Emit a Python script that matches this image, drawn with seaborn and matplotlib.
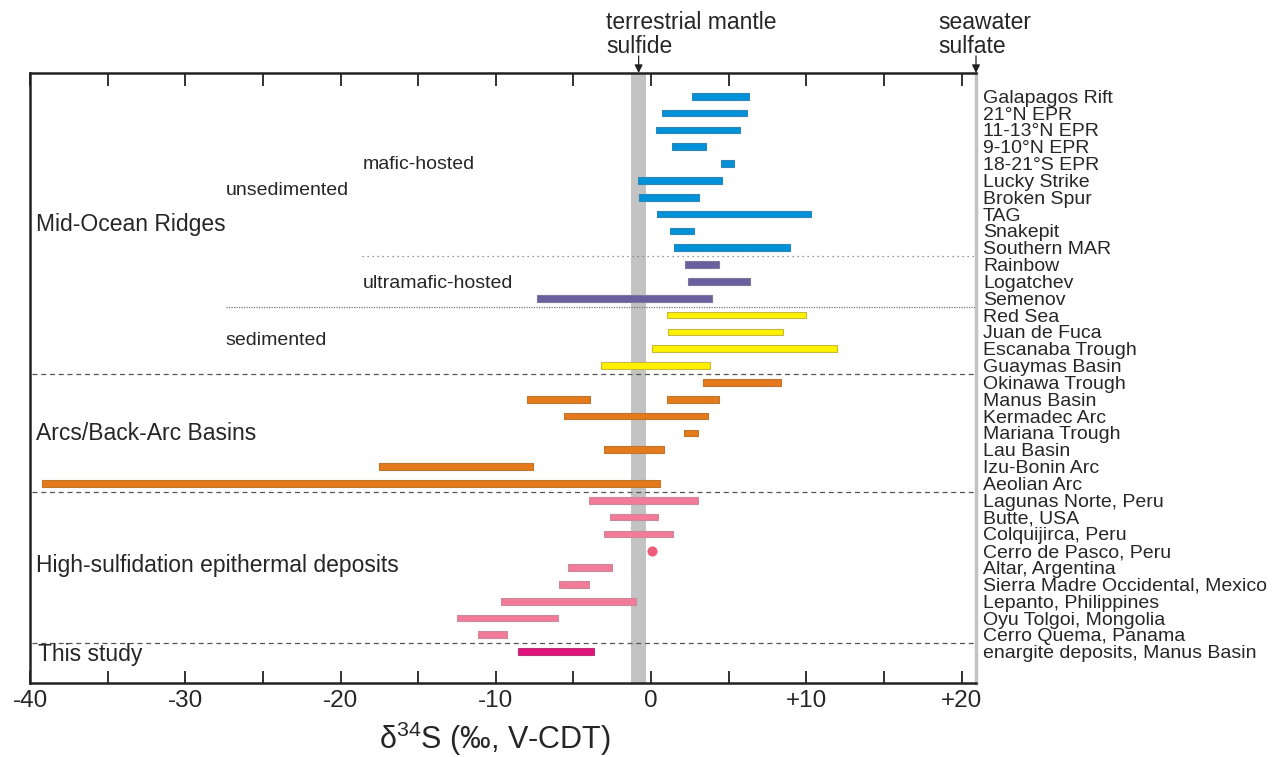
import numpy as np
import pandas as pd
import matplotlib
matplotlib.use("Agg")
import matplotlib.pyplot as plt
import seaborn as sns
from matplotlib.transforms import blended_transform_factory

# ---------------- data ----------------
sites = ["Galapagos Rift", "21°N EPR", "11-13°N EPR", "9-10°N EPR", "18-21°S EPR",
         "Lucky Strike", "Broken Spur", "TAG", "Snakepit", "Southern MAR",
         "Rainbow", "Logatchev", "Semenov",
         "Red Sea", "Juan de Fuca", "Escanaba Trough", "Guaymas Basin",
         "Okinawa Trough", "Manus Basin", "Kermadec Arc", "Mariana Trough",
         "Lau Basin", "Izu-Bonin Arc", "Aeolian Arc",
         "Lagunas Norte, Peru", "Butte, USA", "Colquijirca, Peru",
         "Cerro de Pasco, Peru", "Altar, Argentina",
         "Sierra Madre Occidental, Mexico", "Lepanto, Philippines",
         "Oyu Tolgoi, Mongolia", "Cerro Quema, Panama",
         "enargite deposits, Manus Basin"]

# range segments (site, min, max, group)
seg_site = ["Galapagos Rift", "21°N EPR", "11-13°N EPR", "9-10°N EPR", "18-21°S EPR",
            "Lucky Strike", "Broken Spur", "TAG", "Snakepit", "Southern MAR",
            "Rainbow", "Logatchev", "Semenov",
            "Red Sea", "Juan de Fuca", "Escanaba Trough", "Guaymas Basin",
            "Okinawa Trough", "Manus Basin", "Manus Basin", "Kermadec Arc",
            "Mariana Trough", "Lau Basin", "Izu-Bonin Arc", "Aeolian Arc",
            "Lagunas Norte, Peru", "Butte, USA", "Colquijirca, Peru",
            "Altar, Argentina", "Sierra Madre Occidental, Mexico",
            "Lepanto, Philippines", "Oyu Tolgoi, Mongolia",
            "Cerro Quema, Panama", "enargite deposits, Manus Basin"]
seg_lo = [2.65, 0.7, 0.3, 1.35, 4.5, -0.85, -0.75, 0.4, 1.2, 1.45,
          2.2, 2.35, -7.35,
          1.05, 1.1, 0.05, -3.25,
          3.35, -8.0, 1.0, -5.6, 2.1, -3.0, -17.5, -39.2,
          -4.0, -2.65, -3.0, -5.35, -5.95, -9.65, -12.5, -11.15, -8.6]
seg_hi = [6.3, 6.2, 5.75, 3.55, 5.35, 4.6, 3.1, 10.3, 2.75, 8.95,
          4.4, 6.35, 3.95,
          10.0, 8.5, 11.95, 3.8,
          8.4, -3.9, 4.35, 3.65, 3.05, 0.85, -7.6, 0.55,
          3.05, 0.45, 1.4, -2.5, -4.0, -0.95, -6.0, -9.3, -3.7]
seg_group = (["mafic"] * 10 + ["ultramafic"] * 3 + ["sedimented"] * 4 +
             ["arc"] * 8 + ["hs"] * 8 + ["this"])

point_site = ["Cerro de Pasco, Peru"]
point_val = [0.05]

mantle_band = (-1.3, -0.35)
mantle_value = -0.8
seawater_value = 20.93

group_fill = {"mafic": "#0092d8", "ultramafic": "#6a5f9f", "sedimented": "#fff200",
              "arc": "#e57a1c", "hs": "#f27b99", "this": "#df157b"}
group_edge = {"mafic": "#2f86b6", "ultramafic": "#7f7799", "sedimented": "#c8b83a",
              "arc": "#c0742e", "hs": "#c98a9a", "this": "#c0307a"}

xticks = [-40, -30, -20, -10, 0, 10, 20]
xtick_labels = ["-40", "-30", "-20", "-10", "0", "+10", "+20"]

# ---------------- style ----------------
sns.set_theme(style="white")
plt.rcParams["font.family"] = ["Liberation Sans", "DejaVu Sans"]
plt.rcParams["mathtext.fontset"] = "custom"
plt.rcParams["mathtext.rm"] = "Liberation Sans"
plt.rcParams["mathtext.it"] = "Liberation Sans"

fig = plt.figure(figsize=(12.78, 7.57), dpi=100)
W, H = 1278, 757
ax = fig.add_axes([30 / W, 1 - 683 / H, (976 - 30) / W, (683 - 73) / H])

row = {s: i for i, s in enumerate(sites)}
df = pd.DataFrame({"site": seg_site, "lo": seg_lo, "hi": seg_hi, "group": seg_group})
df["row"] = df["site"].map(row)

ax.axvspan(*mantle_band, color="#c3c3c3", zorder=0, lw=0)

ax.barh(df["row"], df["hi"] - df["lo"], left=df["lo"], height=0.4,
        color=[group_fill[g] for g in df["group"]],
        edgecolor=[group_edge[g] for g in df["group"]], linewidth=0.8, zorder=3)

pdf = pd.DataFrame({"val": point_val, "row": [row[s] for s in point_site]})
sns.scatterplot(data=pdf, x="val", y="row", ax=ax, color="#ee5a7a", s=45,
                edgecolor="#ee5a7a", zorder=4, legend=False)

# separators
xmin, xmax = -39.9, 20.93
ax.hlines(9.5, -18.6, xmax, colors="#777777", linestyles=(0, (1, 3)), lw=0.9)
ax.hlines(12.5, -27.4, xmax, colors="#777777", linestyles=(0, (1, 1)), lw=0.9)
for yy in [16.5, 23.5, 32.5]:
    ax.hlines(yy, xmin, xmax, colors="#555555", linestyles=(0, (4, 3)), lw=0.9)

ax.set_xlim(xmin, xmax)
ax.set_ylim(34.86, -1.38)
ax.set_ylabel("")

# axes labels / ticks
ax.set_xticks(xticks)
ax.set_xticklabels(xtick_labels, fontsize=17.5)
ax.set_xticks(np.arange(-35, 21, 10), minor=True)
ax.tick_params(axis="x", which="both", direction="in", length=9, width=1.3,
               color="#222222", top=True, bottom=True, pad=5)
ax.set_xlabel("δ$^{34}$S (‰, V-CDT)", fontsize=22)
ax.xaxis.set_label_coords((495 - 30) / (976 - 30), -0.06)

ax.yaxis.tick_right()
ax.set_yticks(range(len(sites)))
ax.set_yticklabels(sites, fontsize=14)
ax.tick_params(axis="y", length=0, pad=5)

for side in ["left", "top", "bottom"]:
    ax.spines[side].set_color("#222222")
    ax.spines[side].set_linewidth(1.8)
ax.spines["right"].set_color("#c3c3c3")
ax.spines["right"].set_linewidth(2.5)

# group labels
big, small = 16.5, 14
ax.text(-39.6, 7.65, "Mid-Ocean Ridges", fontsize=big, va="center", ha="left")
ax.text(-27.4, 5.63, "unsedimented", fontsize=small, va="center", ha="left")
ax.text(-18.6, 4.08, "mafic-hosted", fontsize=small, va="center", ha="left")
ax.text(-18.6, 11.1, "ultramafic-hosted", fontsize=small, va="center", ha="left")
ax.text(-27.4, 14.54, "sedimented", fontsize=small, va="center", ha="left")
ax.text(-39.6, 20.06, "Arcs/Back-Arc Basins", fontsize=big, va="center", ha="left")
ax.text(-39.6, 27.9, "High-sulfidation epithermal deposits", fontsize=big,
        va="center", ha="left")
ax.text(-39.5, 33.14, "This study", fontsize=big, va="center", ha="left")

# top reference arrows
tr = blended_transform_factory(ax.transData, ax.transAxes)
for xv, label, tx in [(mantle_value, "terrestrial mantle\nsulfide", -2.9),
                      (seawater_value, "seawater\nsulfate", 18.5)]:
    ax.annotate("", xy=(xv, 1.0), xycoords=tr, xytext=(xv, 1.028), textcoords=tr,
                arrowprops=dict(arrowstyle="-|>", color="#222222", lw=0.9,
                                mutation_scale=12, shrinkA=0, shrinkB=0),
                annotation_clip=False)
    ax.text(tx, 1.024, label, transform=tr, fontsize=16.5, ha="left", va="bottom",
            linespacing=1.08)

fig.savefig("out.png", dpi=100)
